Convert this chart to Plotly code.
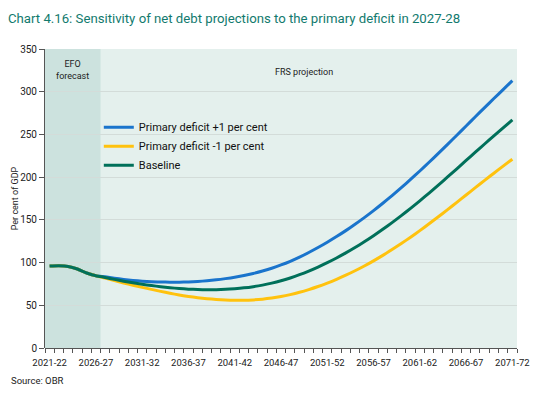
import plotly.graph_objects as go

years = [f"{y}-{str(y + 1)[-2:]}" for y in range(2021, 2072)]

baseline = [96.0, 96.3, 95.5, 92.5, 87.8, 84.6, 82.6, 80.3, 78.2, 76.3,
            74.6, 73.1, 71.8, 70.6, 69.6, 68.9, 68.4, 68.2, 68.3, 68.7,
            69.4, 70.4, 71.8, 73.6, 75.9, 78.7, 82.0, 85.8, 90.1, 94.8,
            99.9, 105.4, 111.3, 117.6, 124.3, 131.4, 138.9, 146.8, 155.0, 163.5,
            172.3, 181.4, 190.7, 200.2, 209.8, 219.5, 229.2, 238.8, 248.3, 257.7,
            267.0]

deficit_plus1 = [96.0, 96.3, 95.5, 92.5, 87.8, 84.6, 83.3, 81.7, 80.3, 79.1,
                 78.2, 77.6, 77.3, 77.1, 77.1, 77.4, 77.9, 78.7, 79.8, 81.2,
                 82.9, 84.9, 87.3, 90.1, 93.4, 97.2, 101.5, 106.4, 111.8, 117.6,
                 123.8, 130.4, 137.4, 144.8, 152.6, 160.8, 169.4, 178.4, 187.7, 197.3,
                 207.2, 217.4, 227.8, 238.4, 249.1, 259.9, 270.7, 281.4, 292.0, 302.5,
                 313.0]

deficit_minus1 = [96.0, 96.3, 95.5, 92.5, 87.8, 84.6, 81.9, 78.9, 76.1, 73.5,
                  71.0, 68.6, 66.3, 64.1, 62.1, 60.4, 58.9, 57.7, 56.8, 56.2,
                  55.9, 55.9, 56.3, 57.1, 58.4, 60.2, 62.5, 65.2, 68.4, 72.0,
                  76.0, 80.4, 85.2, 90.4, 96.0, 102.0, 108.4, 115.2, 122.3, 129.7,
                  137.4, 145.4, 153.6, 162.0, 170.5, 179.1, 187.7, 196.2, 204.6, 212.9,
                  221.0]

tick_labels = years[::5]
efo_years = years[:6]  # EFO forecast period

x_idx = list(range(len(years)))
FONT = "Roboto, Arial, sans-serif"
TXT = "#222222"

fig = go.Figure()
series = [
    ("Primary deficit +1 per cent", deficit_plus1, "#1A74CC"),
    ("Primary deficit -1 per cent", deficit_minus1, "#FFC20E"),
    ("Baseline", baseline, "#00705A"),
]
for name, vals, col in series:
    fig.add_trace(go.Scatter(
        x=x_idx, y=vals, mode="lines", name=name,
        line=dict(color=col, width=3, shape="spline", smoothing=0.6),
        hovertext=years, hoverinfo="text+y",
    ))

# EFO forecast shaded region
fig.add_vrect(x0=-0.5, x1=len(efo_years) - 0.5, fillcolor="#CCE2DE",
              line_width=0, layer="below")

fig.add_annotation(x=(len(efo_years) - 1) / 2, xref="x", y=0.972, yref="paper",
                   text="EFO<br>forecast", showarrow=False, yanchor="top",
                   font=dict(family=FONT, size=9, color=TXT))
fig.add_annotation(x=27.5, xref="x", y=0.948, yref="paper",
                   text="FRS projection", showarrow=False, yanchor="top",
                   font=dict(family=FONT, size=9, color=TXT))

# y-axis title as annotation (no automargin)
fig.add_annotation(x=-0.064, xref="paper", y=0.5, yref="paper", textangle=-90,
                   xanchor="center", yanchor="middle",
                   text="Per cent of GDP", showarrow=False,
                   font=dict(family=FONT, size=9, color=TXT))

# source note
fig.add_annotation(x=-0.076, xref="paper", y=-0.11, yref="paper",
                   xanchor="left", yanchor="middle",
                   text="Source: OBR", showarrow=False,
                   font=dict(family=FONT, size=9.5, color=TXT))

fig.update_layout(
    width=545, height=387,
    margin=dict(l=37, r=36, t=41, b=47),
    paper_bgcolor="white",
    plot_bgcolor="#E4F0ED",
    font=dict(family=FONT, size=11, color=TXT),
    title=dict(
        text="Chart 4.16: Sensitivity of net debt projections to the primary deficit in 2027-28",
        x=0.0, xanchor="left", y=0.974, yanchor="middle",
        font=dict(family=FONT, size=13.2, color="#127A6E"),
    ),
    showlegend=True,
    legend=dict(x=0.114, y=0.787, xanchor="left", yanchor="top",
                bgcolor="rgba(0,0,0,0)", font=dict(family=FONT, size=11, color="#111111"),
                tracegroupgap=0, itemwidth=30),
    xaxis=dict(
        range=[-0.5, len(years) - 0.5], automargin=False,
        tickmode="array", tickvals=[years.index(t) for t in tick_labels], ticktext=tick_labels,
        ticks="", showgrid=False, zeroline=False, showline=False,
        ticklabelstandoff=7,
        tickfont=dict(family=FONT, size=9.5, color=TXT),
        minor=dict(ticks="outside", tick0=-0.5, dtick=1, ticklen=4, tickcolor="#555555", showgrid=False),
    ),
    yaxis=dict(
        range=[0, 350], dtick=50, ticks="outside", ticklen=5, tickcolor="#555555",
        automargin=False,
        showline=True, linecolor="#555555", linewidth=1,
        gridcolor="#D3DCD9", gridwidth=1, zeroline=True, zerolinecolor="#555555", zerolinewidth=1,
        tickfont=dict(family=FONT, size=10, color=TXT),
    ),
)

fig.write_html("out.html")
